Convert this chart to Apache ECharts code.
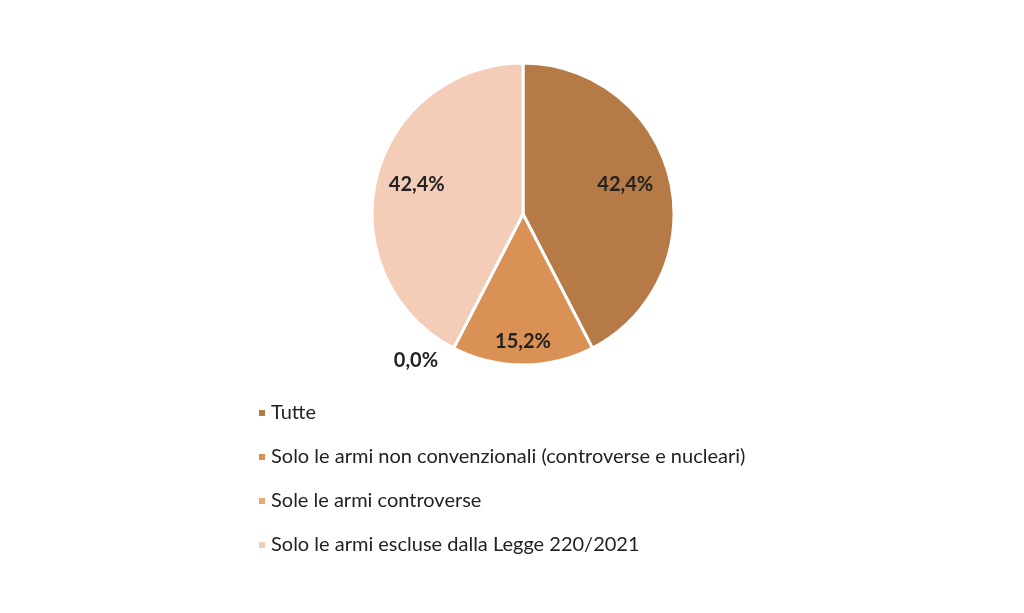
<!DOCTYPE html><html><head><meta charset="utf-8"><script src="https://cdn.jsdelivr.net/npm/echarts@6/dist/echarts.min.js"></script></head><body style="margin:0"><div id="c" style="width:1024px;height:613px"></div><script>
const categories=["Tutte","Solo le armi non convenzionali (controverse e nucleari)","Sole le armi controverse","Solo le armi escluse dalla Legge 220/2021"];
const values=[42.4,15.2,0.0,42.4];
const colors=["#B57A45","#D99155","#E8A878","#F4CDB8"];
const offsets=[[26,-11],[0,49],[-71,77],[-30,-11]];
const c=echarts.init(document.getElementById('c'));
c.setOption({
legend:{orient:'vertical',left:252,top:398,itemGap:24,icon:'rect',itemWidth:8,itemHeight:8,
 textStyle:{fontFamily:'Lato',fontSize:20,color:'#222'},data:categories},
series:[{type:'pie',center:[523,214],radius:[0,151],startAngle:90,clockwise:true,animation:false,
 itemStyle:{borderColor:'#fff',borderWidth:3},
 label:{position:'inside',fontFamily:'Lato',fontWeight:'bold',fontSize:20,color:'#222',
  formatter:p=>p.value.toFixed(1).replace('.',',')+'%'},
 labelLine:{show:false},emphasis:{disabled:true},
 data:categories.map((n,i)=>({name:n,value:values[i],itemStyle:{color:colors[i]},label:{offset:offsets[i]}}))}]
});
</script></body></html>
